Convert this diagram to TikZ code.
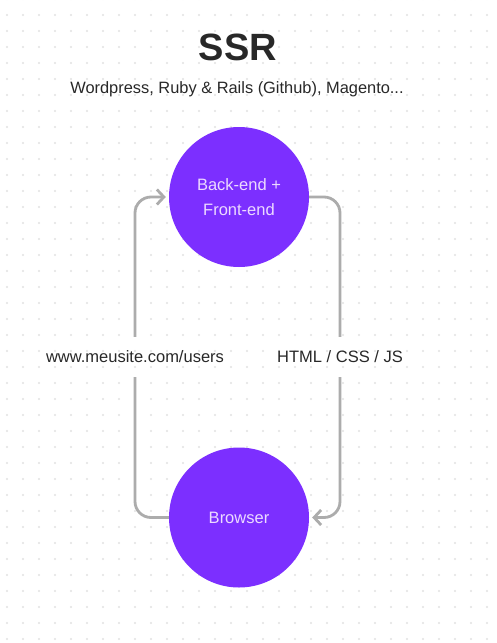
\documentclass[tikz,border=0pt]{standalone}
\usepackage{fontspec}
\setmainfont{Liberation Sans}
\usetikzlibrary{arrows.meta}
\usetikzlibrary{positioning}
\definecolor{ssrpurple}{RGB}{124,47,255}
\definecolor{ssrlilac}{RGB}{236,218,255}
\definecolor{ssrgray}{RGB}{172,172,172}
\definecolor{ssrdot}{RGB}{226,226,226}
\definecolor{ssrtext}{RGB}{40,40,40}
\tikzset{
  tier/.style={circle,fill=ssrpurple,draw=none,minimum size=140pt,inner sep=0pt,
    text=ssrlilac,align=center,font=\fontsize{16.5}{25}\selectfont},
  hop/.style={draw=ssrgray,line width=2.8pt,rounded corners=16pt},
  hoplabel/.style={text=ssrtext,font=\fontsize{16.5}{20}\selectfont,inner xsep=2pt,inner ysep=14pt,outer sep=0pt},
  tip/.style={-{Straight Barb[length=7pt,width=15pt,line width=2.8pt]},shorten >=3pt}
}

\begin{document}
\begin{tikzpicture}[x=1pt,y=-1pt]
\fill[white] (0,0) rectangle (496,643);
\useasboundingbox (0,0) rectangle (496,643);
\foreach \x in {7,23,...,487}
  \foreach \y in {-1,15,...,639}
    \fill[ssrdot] (\x,\y) circle (1.1);

\node[font=\bfseries\fontsize{38}{40}\selectfont,text=ssrtext] (title) at (238,47) {SSR};
\node[font=\fontsize{16.4}{20}\selectfont,text=ssrtext] (stack) at (237,89) {Wordpress, Ruby \& Rails (Github), Magento...};

\node[tier] (server) at (239,197) {Back-end +\\Front-end};
\node[tier] (browser) at (239,517.5) {Browser};

\node[hoplabel] (url) at (135,357) {www.meusite.com/users};
\node[hoplabel] (code) at (340,357) {HTML / CSS / JS};

\draw[hop] (browser.west) -| (url.south);
\draw[hop,tip] (url.north) |- (server.west);
\draw[hop] (server.east) -| (code.north);
\draw[hop,tip] (code.south) |- (browser.east);

\end{tikzpicture}
\end{document}
